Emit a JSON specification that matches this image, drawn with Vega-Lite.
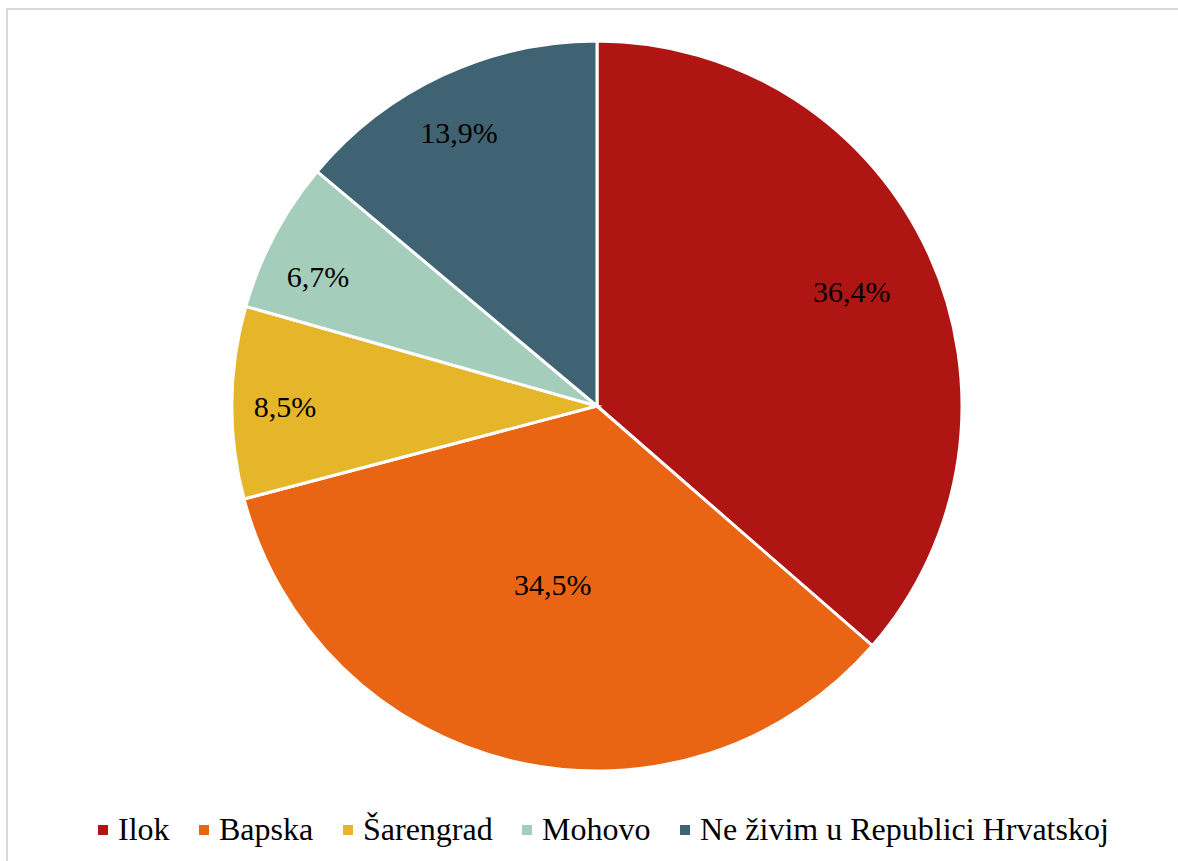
{
  "$schema": "https://vega.github.io/schema/vega-lite/v6.json",
  "autosize": {"type": "fit", "contains": "padding"},
  "width": 1178,
  "height": 861,
  "padding": {"left": 7, "top": 9, "right": -4, "bottom": -4},
  "background": "white",
  "view": {"stroke": "#d9d9d9", "strokeWidth": 2, "fill": "white"},
  "config": {
    "view": {"stroke": "#d9d9d9", "strokeWidth": 2},
    "font": "'Liberation Serif', serif"
  },
  "data": {
    "values": [
      {"city": "Ilok", "value": 36.4, "label": "36,4%", "order": 1},
      {"city": "Bapska", "value": 34.5, "label": "34,5%", "order": 2},
      {"city": "Šarengrad", "value": 8.5, "label": "8,5%", "order": 3},
      {"city": "Mohovo", "value": 6.7, "label": "6,7%", "order": 4},
      {"city": "Ne živim u Republici Hrvatskoj", "value": 13.9, "label": "13,9%", "order": 5}
    ]
  },
  "encoding": {
    "theta": {"field": "value", "type": "quantitative", "stack": true},
    "order": {"field": "order", "type": "quantitative"}
  },
  "layer": [
    {
      "mark": {"type": "arc", "radius": 365, "stroke": "white", "strokeWidth": 3,
               "x": {"expr": "width/2 + 2.5"}, "y": {"expr": "height/2 - 31"}},
      "encoding": {
        "color": {
          "field": "city", "type": "nominal",
          "scale": {
            "domain": ["Ilok", "Bapska", "Šarengrad", "Mohovo", "Ne živim u Republici Hrvatskoj"],
            "range": ["#AE1513", "#E96413", "#E5B62A", "#A5CDBC", "#406374"]
          },
          "legend": {
            "title": null, "orient": "none", "direction": "horizontal", "columns": 5,
            "legendX": 80, "legendY": 805,
            "symbolType": "square", "symbolSize": 100, "symbolStrokeWidth": 0,
            "labelFont": "'Liberation Serif', serif", "labelFontSize": 32, "labelColor": "#000000",
            "labelOffset": -1, "columnPadding": 18, "padding": 0, "labelLimit": 600
          }
        }
      }
    },
    {
      "mark": {"type": "text", "radius": 280, "font": "'Liberation Serif', serif", "fontSize": 30, "color": "#000000",
               "dy": 3,
               "x": {"expr": "width/2 + 2.5"}, "y": {"expr": "height/2 - 31"}},
      "encoding": {
        "text": {"condition": {"test": "datum.city === 'Ilok'", "field": "label"}, "value": ""}
      }
    },
    {
      "mark": {"type": "text", "radius": 186, "font": "'Liberation Serif', serif", "fontSize": 30, "color": "#000000",
               "dx": -2, "dy": -1,
               "x": {"expr": "width/2 + 2.5"}, "y": {"expr": "height/2 - 31"}},
      "encoding": {
        "text": {"condition": {"test": "datum.city === 'Bapska'", "field": "label"}, "value": ""}
      }
    },
    {
      "mark": {"type": "text", "radius": 310, "font": "'Liberation Serif', serif", "fontSize": 30, "color": "#000000",
               "dx": -2, "dy": 5,
               "x": {"expr": "width/2 + 2.5"}, "y": {"expr": "height/2 - 31"}},
      "encoding": {
        "text": {"condition": {"test": "datum.city === 'Šarengrad'", "field": "label"}, "value": ""}
      }
    },
    {
      "mark": {"type": "text", "radius": 310, "font": "'Liberation Serif', serif", "fontSize": 30, "color": "#000000",
               "dx": -5, "dy": 17,
               "x": {"expr": "width/2 + 2.5"}, "y": {"expr": "height/2 - 31"}},
      "encoding": {
        "text": {"condition": {"test": "datum.city === 'Mohovo'", "field": "label"}, "value": ""}
      }
    },
    {
      "mark": {"type": "text", "radius": 310, "font": "'Liberation Serif', serif", "fontSize": 30, "color": "#000000",
               "dx": -7, "dy": 9,
               "x": {"expr": "width/2 + 2.5"}, "y": {"expr": "height/2 - 31"}},
      "encoding": {
        "text": {"condition": {"test": "datum.city === 'Ne živim u Republici Hrvatskoj'", "field": "label"}, "value": ""}
      }
    }
  ]
}
